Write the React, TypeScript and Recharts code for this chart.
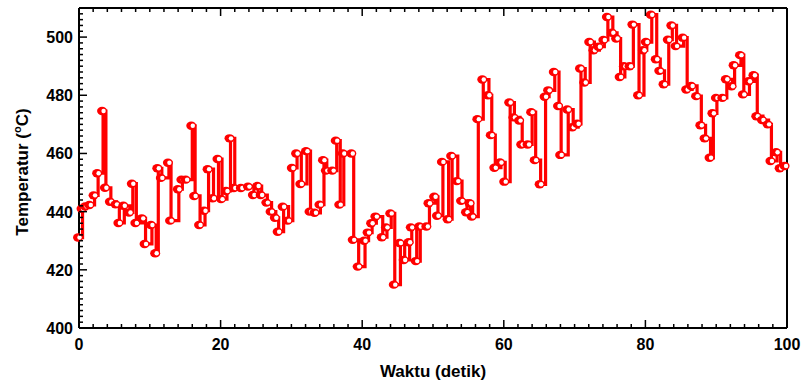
import React from 'react';
import { ComposedChart, Line, XAxis, YAxis } from 'recharts';

const times = [
  0.0, 0.5, 1.0, 1.6, 2.2, 2.7, 3.4, 3.8, 4.5, 5.3, 5.7, 6.4, 7.2, 7.6, 8.1, 9.0, 9.4, 10.3, 10.9, 11.2,
  11.7, 12.7, 13.0, 14.1, 14.6, 15.2, 16.0, 16.4, 17.1, 17.8, 18.3, 19.0, 19.7, 20.2, 20.9, 21.4, 22.0, 23.0, 24.0, 24.7,
  25.3, 25.8, 26.6, 27.2, 27.8, 28.2, 28.9, 29.6, 30.2, 30.8, 31.4, 32.2, 32.7, 33.4, 34.1, 34.6, 35.0, 35.9, 36.4, 36.9,
  37.4, 38.6, 38.8, 39.5, 40.4, 40.9, 41.4, 42.0, 42.9, 43.5, 44.1, 44.6, 45.4, 46.0, 46.7, 47.0, 47.7, 48.2, 49.2, 49.5,
  50.3, 50.7, 51.4, 52.2, 52.7, 53.5, 54.1, 54.8, 55.3, 55.6, 56.4, 57.1, 57.9, 58.3, 58.8, 59.6, 60.2, 60.9, 61.5, 62.3,
  62.6, 63.5, 64.0, 64.5, 65.2, 65.9, 66.4, 67.2, 67.8, 68.1, 69.1, 69.8, 70.5, 70.9, 71.5, 72.2, 72.8, 73.5, 74.2, 74.7,
  75.4, 76.0, 76.5, 77.1, 77.9, 78.3, 79.1, 79.8, 80.2, 80.9, 81.6, 82.1, 82.7, 83.3, 83.8, 84.4, 85.4, 85.9, 86.6, 87.3,
  87.9, 88.5, 89.2, 89.6, 90.1, 91.0, 91.5, 92.3, 92.6, 93.5, 93.9, 94.7, 95.4, 95.8, 96.6, 97.4, 97.8, 98.6, 99.1, 99.8,
];

const temps = [
  431.1, 441.0, 441.8, 442.3, 445.6, 453.2, 474.6, 448.2, 443.4, 442.5, 436.1, 442.0, 439.7, 449.6, 436.1, 437.7, 428.9, 435.4, 425.7, 454.9,
  451.6, 456.8, 436.9, 447.7, 451.0, 451.0, 469.5, 445.4, 435.4, 440.3, 454.6, 444.6, 458.1, 444.3, 447.1, 465.2, 448.1, 448.1, 448.6, 445.7,
  448.8, 445.7, 443.1, 440.0, 437.9, 433.1, 441.7, 436.9, 455.0, 460.0, 449.5, 460.8, 440.0, 439.6, 442.4, 457.7, 454.1, 454.1, 464.4, 442.4,
  460.0, 460.0, 430.3, 421.1, 430.0, 432.8, 436.0, 438.3, 431.2, 434.6, 439.4, 414.9, 429.2, 423.4, 429.5, 434.6, 423.0, 434.9, 434.9, 442.9,
  445.1, 438.6, 457.1, 437.4, 459.1, 450.5, 443.7, 439.8, 442.9, 438.3, 471.8, 485.4, 480.0, 466.3, 455.1, 456.9, 450.3, 477.5, 472.4, 471.3,
  463.1, 463.1, 474.2, 457.7, 449.4, 479.5, 481.7, 488.0, 476.3, 459.5, 475.1, 469.0, 470.2, 489.2, 484.4, 498.3, 495.5, 496.7, 499.0, 506.9,
  501.5, 499.5, 486.3, 490.0, 490.0, 504.3, 480.0, 495.5, 498.3, 507.7, 492.4, 488.4, 483.8, 499.1, 504.0, 496.9, 499.8, 482.0, 483.2, 479.7,
  469.7, 465.2, 458.5, 473.8, 479.1, 479.1, 485.5, 483.1, 490.3, 493.8, 480.3, 484.8, 486.9, 472.8, 471.5, 470.0, 457.4, 460.4, 454.9, 455.7,
];

const xTicks = [
  0, 2, 4, 6, 8, 10, 12, 14, 16, 18, 20, 22, 24, 26, 28, 30, 32, 34, 36, 38, 40, 42, 44, 46, 48, 50,
  52, 54, 56, 58, 60, 62, 64, 66, 68, 70, 72, 74, 76, 78, 80, 82, 84, 86, 88, 90, 92, 94, 96, 98, 100,
];
const yTicks = [
  400, 402, 404, 406, 408, 410, 412, 414, 416, 418, 420, 422, 424, 426, 428, 430, 432, 434, 436, 438,
  440, 442, 444, 446, 448, 450, 452, 454, 456, 458, 460, 462, 464, 466, 468, 470, 472, 474, 476, 478,
  480, 482, 484, 486, 488, 490, 492, 494, 496, 498, 500, 502, 504, 506, 508, 510,
];
const xLabelEvery = 20;
const yLabelEvery = 20;

const data = times.map((t, i) => ({ t, temp: temps[i] }));

const FONT = '"Liberation Sans", Arial, sans-serif';
const RED = '#ff0000';
const MAJOR = 8;
const MINOR = 4;

const BottomTick = (props: any) => {
  const { x, y, payload } = props;
  const v = payload.value;
  const major = v % xLabelEvery === 0;
  return (
    <g>
      <line x1={x} y1={y} x2={x} y2={y - (major ? MAJOR : MINOR)} stroke="#000" strokeWidth={1.5} />
      {major && (
        <text x={x} y={y + 22} textAnchor="middle" fontFamily={FONT} fontWeight="bold" fontSize={16} fill="#000">
          {v}
        </text>
      )}
    </g>
  );
};

const TopTick = (props: any) => {
  const { x, y, payload } = props;
  const major = payload.value % xLabelEvery === 0;
  return <line x1={x} y1={y} x2={x} y2={y + (major ? MAJOR : MINOR)} stroke="#000" strokeWidth={1.5} />;
};

const LeftTick = (props: any) => {
  const { x, y, payload } = props;
  const v = payload.value;
  const major = v % yLabelEvery === 0;
  return (
    <g>
      <line x1={x} y1={y} x2={x + (major ? MAJOR : MINOR)} y2={y} stroke="#000" strokeWidth={1.5} />
      {major && (
        <text x={x - 6} y={y + 6} textAnchor="end" fontFamily={FONT} fontWeight="bold" fontSize={16} fill="#000">
          {v}
        </text>
      )}
    </g>
  );
};

const RightTick = (props: any) => {
  const { x, y, payload } = props;
  const major = payload.value % yLabelEvery === 0;
  return <line x1={x} y1={y} x2={x - (major ? MAJOR : MINOR)} y2={y} stroke="#000" strokeWidth={1.5} />;
};

const Marker = (props: any) => {
  const { cx, cy, index } = props;
  return (
    <g key={`m${index}`}>
      <ellipse cx={cx - 1} cy={cy} rx={5} ry={4.2} fill={RED} />
      <circle cx={cx + 0.5} cy={cy} r={2.2} fill="#fff" />
    </g>
  );
};

const XTitle = (props: any) => {
  const vb = props.viewBox;
  return (
    <text x={vb.x + vb.width / 2} y={377} textAnchor="middle" fontFamily={FONT} fontWeight="bold" fontSize={17} fill="#000">
      Waktu (detik)
    </text>
  );
};

const YTitle = (props: any) => {
  const vb = props.viewBox;
  const cy = vb.y + vb.height / 2 + 4;
  const cx = 28;
  return (
    <text x={cx} y={cy} transform={`rotate(-90 ${cx} ${cy})`} textAnchor="middle" fontFamily={FONT} fontWeight="bold" fontSize={17} fill="#000">
      Temperatur (<tspan dy={-7} fontSize={11}>o</tspan><tspan dy={7}>C)</tspan>
    </text>
  );
};

export default function App() {
  return (
    <div style={{ position: 'absolute', left: 0, top: 0, width: 803, height: 385, background: '#fff' }}>
      <ComposedChart width={803} height={385} data={data} margin={{ top: 0, right: 0, bottom: 0, left: 0 }}>
        <XAxis
          xAxisId="b"
          dataKey="t"
          type="number"
          domain={[0, 100]}
          ticks={xTicks}
          interval={0}
          orientation="bottom"
          height={57}
          tickSize={0}
          tickMargin={0}
          tickLine={false}
          tick={<BottomTick />}
          axisLine={{ stroke: '#000', strokeWidth: 2 }}
          label={<XTitle />}
        />
        <XAxis
          xAxisId="t"
          dataKey="t"
          type="number"
          domain={[0, 100]}
          ticks={xTicks}
          interval={0}
          orientation="top"
          height={8}
          tickSize={0}
          tickMargin={0}
          tickLine={false}
          tick={<TopTick />}
          axisLine={{ stroke: '#000', strokeWidth: 2 }}
        />
        <YAxis
          yAxisId="l"
          type="number"
          domain={[400, 510]}
          ticks={yTicks}
          interval={0}
          orientation="left"
          width={79}
          tickSize={0}
          tickMargin={0}
          tickLine={false}
          tick={<LeftTick />}
          axisLine={{ stroke: '#000', strokeWidth: 2 }}
          label={<YTitle />}
        />
        <YAxis
          yAxisId="r"
          type="number"
          domain={[400, 510]}
          ticks={yTicks}
          interval={0}
          orientation="right"
          width={16}
          tickSize={0}
          tickMargin={0}
          tickLine={false}
          tick={<RightTick />}
          axisLine={{ stroke: '#000', strokeWidth: 2 }}
        />
        <Line
          xAxisId="b"
          yAxisId="l"
          dataKey="temp"
          type="stepAfter"
          stroke={RED}
          strokeWidth={3.2}
          dot={<Marker />}
          activeDot={false}
          isAnimationActive={false}
        />
      </ComposedChart>
    </div>
  );
}
